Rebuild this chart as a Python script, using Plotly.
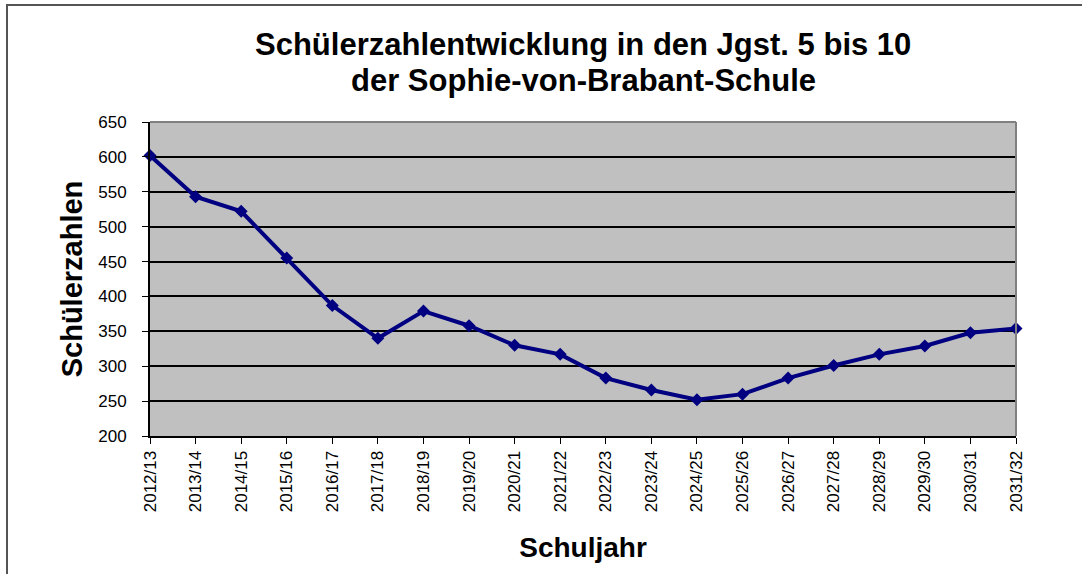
import plotly.graph_objects as go

years = ["2012/13", "2013/14", "2014/15", "2015/16", "2016/17", "2017/18", "2018/19",
         "2019/20", "2020/21", "2021/22", "2022/23", "2023/24", "2024/25", "2025/26",
         "2026/27", "2027/28", "2028/29", "2029/30", "2030/31", "2031/32"]
students = [602, 543, 522, 455, 387, 340, 379, 358, 330, 317, 283, 266, 252, 260,
            283, 301, 317, 329, 348, 354]
y_ticks = [200, 250, 300, 350, 400, 450, 500, 550, 600, 650]

title_lines = ["Schülerzahlentwicklung in den Jgst. 5 bis 10", "der Sophie-von-Brabant-Schule"]
x_title = "Schuljahr"
y_title = "Schülerzahlen"

FONT = "Liberation Sans, Arial, sans-serif"

# plot area in pixels: x 150..1016, y 122..436
L, R, T, B = 150, 1016, 122, 436
W, H = 1082, 574
PW, PH = R - L, B - T

fig = go.Figure()
fig.add_trace(go.Scatter(
    x=list(range(len(years))), y=students, mode="lines+markers",
    line=dict(color="#000080", width=4),
    marker=dict(symbol="diamond", size=10, color="#000080"),
    showlegend=False, cliponaxis=False,
))

fig.update_layout(
    width=W, height=H,
    margin=dict(l=L, r=W - R, t=T, b=H - B),
    paper_bgcolor="white", plot_bgcolor="#C0C0C0",
    font=dict(family=FONT, color="black"),
    xaxis=dict(
        range=[0, len(years) - 1],
        tickmode="array", tickvals=list(range(len(years))), ticktext=years,
        tickangle=-90, tickfont=dict(size=17, family=FONT),
        ticks="outside", ticklen=6, tickcolor="black", tickwidth=1,
        showline=True, linecolor="black", linewidth=2,
        showgrid=False, zeroline=False,
        title=dict(text="<b>" + x_title + "</b>", font=dict(size=28, family=FONT), standoff=26),
    ),
    yaxis=dict(
        range=[200, 650], tickvals=y_ticks,
        tickfont=dict(size=17, family=FONT),
        ticks="outside", ticklen=6, tickcolor="black", tickwidth=1,
        ticklabelstandoff=12,
        showline=True, linecolor="black", linewidth=2,
        showgrid=True, gridcolor="black", gridwidth=1.5, zeroline=False,
        title=dict(text="<b>" + y_title + "</b>", font=dict(size=29, family=FONT), standoff=7),
    ),
)

# two-line title as annotations (tighter line spacing than layout.title)
for line, ypx in zip(title_lines, [45, 80]):
    fig.add_annotation(text="<b>" + line + "</b>", xref="paper", yref="paper",
                       x=(583 - L) / PW, y=(B - ypx) / PH, xanchor="center", yanchor="middle",
                       showarrow=False, font=dict(size=31, family=FONT, color="black"))

# plot-area border on top and right (gray)
fig.add_shape(type="line", xref="paper", yref="paper", x0=0, x1=1, y0=1, y1=1,
              line=dict(color="#808080", width=2))
fig.add_shape(type="line", xref="paper", yref="paper", x0=1, x1=1, y0=0, y1=1,
              line=dict(color="#808080", width=2))
# outer chart frame (only top & left visible in the picture)
fig.add_shape(type="rect", xref="paper", yref="paper",
              x0=(7 - L) / PW, x1=(W + 20 - L) / PW,
              y0=(B - (H + 20)) / PH, y1=(B - 5) / PH,
              line=dict(color="#555555", width=2), layer="above")

fig.write_html("out.html", config={"displayModeBar": False},
               post_script="document.body.style.margin='0';")
